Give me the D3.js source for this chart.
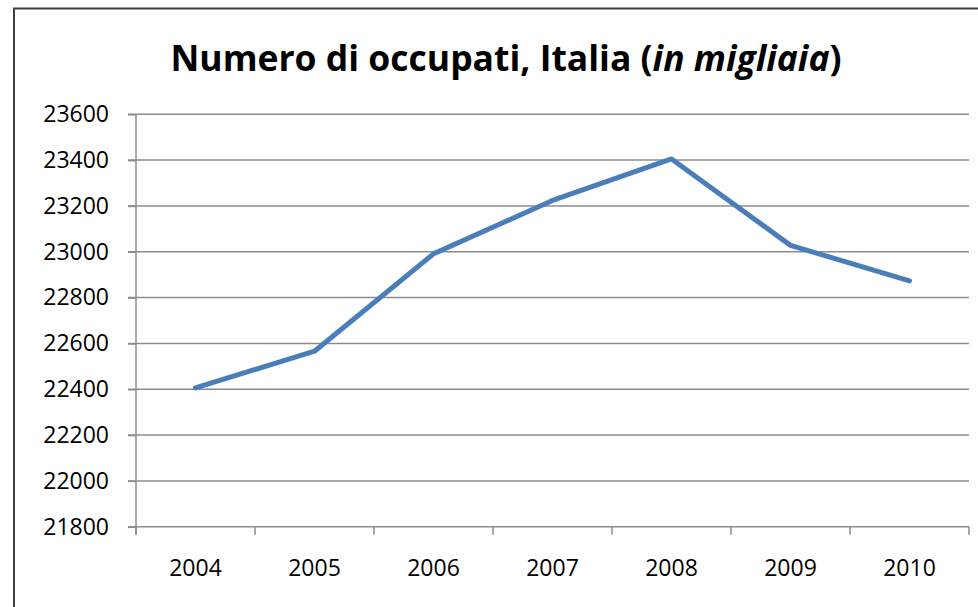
<!DOCTYPE html>
<html>
<head>
<meta charset="utf-8">
<script src="https://cdn.jsdelivr.net/npm/d3@7"></script>
<style>
  body { margin: 0; background: #fff; overflow: hidden; }
  svg { display: block; font-family: "Open Sans", "Noto Sans", sans-serif; }
</style>
</head>
<body>
<div id="chart"></div>
<script>
// data
const years = ["2004", "2005", "2006", "2007", "2008", "2009", "2010"];
const occupati = [22406, 22566, 22991, 23224, 23405, 23028, 22873];
const yTicks = [21800, 22000, 22200, 22400, 22600, 22800, 23000, 23200, 23400, 23600];

const W = 978, H = 607;
const margin = { top: 114.3, right: 10, bottom: 80.3, left: 136 };

const svg = d3.select("#chart").append("svg")
  .attr("width", W)
  .attr("height", H);

// outer chart frame (right and bottom edges run off the picture)
svg.append("rect")
  .attr("x", 14).attr("y", 8.5)
  .attr("width", 980).attr("height", 640)
  .attr("fill", "none")
  .attr("stroke", "#404040")
  .attr("stroke-width", 2);

const x = d3.scaleBand()
  .domain(years)
  .range([margin.left, margin.left + 7 * 119]);

const y = d3.scaleLinear()
  .domain([21800, 23600])
  .range([H - margin.bottom, margin.top]);

// gridlines
svg.append("g")
  .selectAll("line")
  .data(yTicks)
  .join("line")
  .attr("x1", margin.left - 8)
  .attr("x2", x.range()[1])
  .attr("y1", d => y(d))
  .attr("y2", d => y(d))
  .attr("stroke", "#8c8c8c")
  .attr("stroke-width", 1.5);

// y axis
const yAxis = svg.append("g")
  .attr("transform", `translate(${margin.left},0)`)
  .call(d3.axisLeft(y).tickValues(yTicks).tickFormat(d3.format("d")).tickSize(8).tickPadding(19));
yAxis.select(".domain").attr("stroke", "#8c8c8c").attr("stroke-width", 1.5)
  .attr("d", `M0,${y(23600)}V${y(21800) + 8}`);
yAxis.selectAll(".tick line").attr("stroke", "#8c8c8c").attr("stroke-width", 1.5);
yAxis.selectAll("text").attr("font-size", 23).attr("fill", "#000")
  .attr("font-family", "'Open Sans', sans-serif");

// x axis
const xAxis = svg.append("g")
  .attr("transform", `translate(0,${y(21800)})`)
  .call(d3.axisBottom(x).tickSize(0).tickPadding(33));
xAxis.select(".domain").remove();
xAxis.selectAll("text").attr("font-size", 23).attr("fill", "#000")
  .attr("font-family", "'Open Sans', sans-serif");

// category boundary ticks
const bounds = years.map(d => x(d)).concat([x.range()[1]]);
svg.append("g")
  .selectAll("line")
  .data(bounds)
  .join("line")
  .attr("x1", d => d).attr("x2", d => d)
  .attr("y1", y(21800)).attr("y2", y(21800) + 8)
  .attr("stroke", "#8c8c8c")
  .attr("stroke-width", 1.5);

// the line
const line = d3.line()
  .x((d, i) => x(years[i]) + x.bandwidth() / 2)
  .y(d => y(d));

svg.append("path")
  .datum(occupati)
  .attr("fill", "none")
  .attr("stroke", "#4a7ebb")
  .attr("stroke-width", 5)
  .attr("stroke-linejoin", "round")
  .attr("stroke-linecap", "round")
  .attr("d", line);

// title
const title = svg.append("text")
  .attr("x", 506)
  .attr("y", 71)
  .attr("text-anchor", "middle")
  .attr("font-size", 35.5)
  .attr("font-weight", "bold")
  .attr("fill", "#000");
title.append("tspan").text("Numero di occupati, Italia (");
title.append("tspan").attr("font-style", "italic").text("in migliaia");
title.append("tspan").text(")");
</script>
</body>
</html>
